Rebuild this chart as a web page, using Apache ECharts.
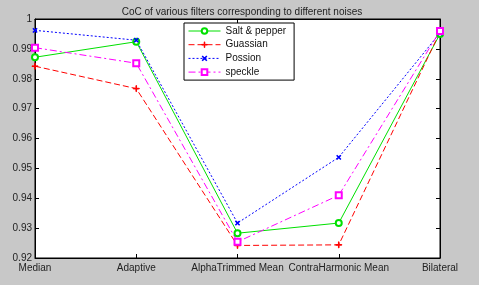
<!DOCTYPE html>
<html>
<head>
<meta charset="utf-8">
<script src="https://cdn.jsdelivr.net/npm/echarts@6/dist/echarts.min.js"></script>
<style>
html,body{margin:0;padding:0;background:#c8c8c8;}
#chart{width:479px;height:285px;}
</style>
</head>
<body>
<div id="chart"></div>
<script>
// filters on the x axis
var filters = ['Median', 'Adaptive', 'AlphaTrimmed Mean', 'ContraHarmonic Mean', 'Bilateral'];
// CoC values per noise
var saltPepper = [0.9872, 0.9924, 0.9283, 0.9317, 0.9950];
var gaussian   = [0.9842, 0.9767, 0.9242, 0.9244, 0.9957];
var poisson    = [0.9962, 0.9929, 0.9317, 0.9537, 0.9953];
var speckle    = [0.9904, 0.9852, 0.9254, 0.9410, 0.9960];
var yTicks = [0.92, 0.93, 0.94, 0.95, 0.96, 0.97, 0.98, 0.99, 1];

var chart = echarts.init(document.getElementById('chart'));
var plus = 'path://M4.5,0H5.5V4.5H10V5.5H5.5V10H4.5V5.5H0V4.5H4.5Z';
var font = 'Liberation Sans, Arial, sans-serif';

function mkSeries(name, data, color, type, symbol, size, rotate) {
	return {
		name: name,
		type: 'line',
		data: data,
		symbol: symbol,
		symbolSize: size,
		symbolRotate: rotate || 0,
		showSymbol: true,
		color: color,
		itemStyle: { color: color, borderColor: color, borderWidth: 1 },
		lineStyle: { color: color, width: 1, type: type },
		emphasis: { disabled: true },
		animation: false
	};
}

var option = {
	backgroundColor: '#c8c8c8',
	animation: false,
	textStyle: { fontFamily: font },
	title: {
		text: 'CoC of various filters corresponding to different noises',
		left: 237, top: 2, textAlign: 'center',
		textStyle: { fontSize: 10, fontWeight: 'normal', color: '#222', fontFamily: font }
	},
	legend: {
		orient: 'vertical',
		left: 184, top: 23,
		width: 107,
		padding: [3, 8, 3, 4],
		itemGap: 3.7,
		itemWidth: 32, itemHeight: 7,
		backgroundColor: '#fff',
		borderColor: '#000', borderWidth: 1,
		borderRadius: 0,
		lineStyle: { width: 1 },
		itemStyle: { borderWidth: 1 },
		textStyle: { fontSize: 10, color: '#111', fontFamily: font },
		data: ['Salt & pepper', 'Guassian', 'Possion', 'speckle']
	},
	grid: {
		left: 35, right: 39, top: 19, bottom: 27,
		show: true, backgroundColor: '#fff', borderColor: '#000', borderWidth: 1
	},
	xAxis: [{
		type: 'category', data: filters, boundaryGap: false,
		axisLine: { lineStyle: { color: '#000' } },
		axisTick: { inside: true, length: 4, lineStyle: { color: '#000' }, alignWithLabel: true },
		axisLabel: { fontSize: 10, color: '#222', margin: 5, interval: 0, fontFamily: font },
		splitLine: { show: false }
	}, {
		type: 'category', data: filters, boundaryGap: false, position: 'top',
		axisLine: { lineStyle: { color: '#000' } },
		axisTick: { inside: true, length: 4, lineStyle: { color: '#000' } },
		axisLabel: { show: false }
	}],
	yAxis: [{
		type: 'value', min: 0.92, max: 1, interval: 0.01,
		axisLine: { show: true, lineStyle: { color: '#000' } },
		axisTick: { show: true, inside: true, length: 4, lineStyle: { color: '#000' } },
		axisLabel: {
			fontSize: 10, color: '#222', margin: 3, fontFamily: font,
			formatter: function (v) { return String(parseFloat(v.toFixed(2))); }
		},
		splitLine: { show: false }
	}, {
		type: 'value', min: 0.92, max: 1, interval: 0.01, position: 'right',
		axisLine: { show: true, lineStyle: { color: '#000' } },
		axisTick: { show: true, inside: true, length: 4, lineStyle: { color: '#000' } },
		axisLabel: { show: false },
		splitLine: { show: false }
	}],
	series: [
		mkSeries('Salt & pepper', saltPepper, '#00e000', 'solid', 'emptyCircle', 6),
		mkSeries('Guassian', gaussian, '#ff0000', [6, 3], plus, 6),
		mkSeries('Possion', poisson, '#0000ff', [2, 2], plus, 5, 45),
		mkSeries('speckle', speckle, '#ff00ff', [7, 3, 2, 3], 'emptyRect', 6)
	]
};
chart.setOption(option);
</script>
</body>
</html>
